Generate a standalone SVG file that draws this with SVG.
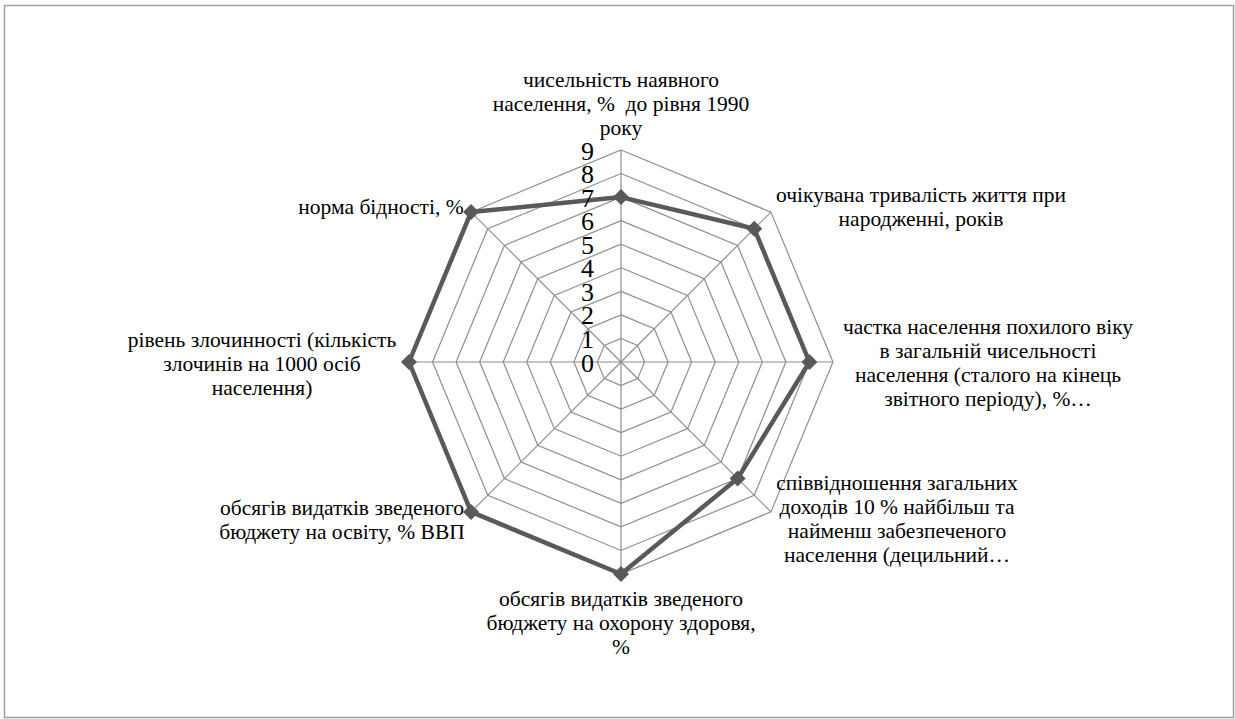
<svg xmlns="http://www.w3.org/2000/svg" width="1235" height="719" viewBox="0 0 1235 719">
<style>
.grid{fill:none;stroke:#8e8e8e;stroke-width:1.2}
.spoke{stroke:#8e8e8e;stroke-width:1.2}
.txt{font-family:"Liberation Serif","Times New Roman",Tinos,serif;fill:#000}
.lbl{font-size:21.5px;text-anchor:middle}
.num{font-size:26px;text-anchor:end}
.series{fill:none;stroke:#595959;stroke-width:4.5;stroke-linejoin:round}
</style>
<defs>
<polygon id="dia" points="0,-8 8,0 0,8 -8,0" fill="#595959"/>
</defs>
<rect x="0" y="0" width="1235" height="719" fill="#fff"/>
<rect x="4.5" y="5.5" width="1229" height="712" fill="none" stroke="#a0a0a0" stroke-width="1.5"/>
<g id="grid">
<polygon class="grid" points="621,338.44 637.66,345.34 644.56,362 637.66,378.66 621,385.56 604.34,378.66 597.44,362 604.34,345.34"/>
<polygon class="grid" points="621,314.89 654.31,328.69 668.11,362 654.31,395.31 621,409.11 587.69,395.31 573.89,362 587.69,328.69"/>
<polygon class="grid" points="621,291.33 670.97,312.03 691.67,362 670.97,411.97 621,432.67 571.03,411.97 550.33,362 571.03,312.03"/>
<polygon class="grid" points="621,267.78 687.63,295.37 715.22,362 687.63,428.63 621,456.22 554.37,428.63 526.78,362 554.37,295.37"/>
<polygon class="grid" points="621,244.22 704.28,278.72 738.78,362 704.28,445.28 621,479.78 537.72,445.28 503.22,362 537.72,278.72"/>
<polygon class="grid" points="621,220.67 720.94,262.06 762.33,362 720.94,461.94 621,503.33 521.06,461.94 479.67,362 521.06,262.06"/>
<polygon class="grid" points="621,197.11 737.60,245.40 785.89,362 737.60,478.60 621,526.89 504.40,478.60 456.11,362 504.40,245.40"/>
<polygon class="grid" points="621,173.56 754.25,228.75 809.44,362 754.25,495.25 621,550.44 487.75,495.25 432.56,362 487.75,228.75"/>
<polygon class="grid" points="621,150 770.91,212.09 833,362 770.91,511.91 621,574 471.09,511.91 409,362 471.09,212.09"/>
</g>
<g id="connectors">
<line class="spoke" x1="621" y1="362" x2="621" y2="150"/>
<line class="spoke" x1="621" y1="362" x2="770.91" y2="212.09"/>
<line class="spoke" x1="621" y1="362" x2="833" y2="362"/>
<line class="spoke" x1="621" y1="362" x2="770.91" y2="511.91"/>
<line class="spoke" x1="621" y1="362" x2="621" y2="574"/>
<line class="spoke" x1="621" y1="362" x2="471.09" y2="511.91"/>
<line class="spoke" x1="621" y1="362" x2="409" y2="362"/>
<line class="spoke" x1="621" y1="362" x2="471.09" y2="212.09"/>
</g>
<g id="series">
<polygon class="series" points="621,197.11 754.25,228.75 809.44,362 737.60,478.60 621,574 471.09,511.91 409,362 471.09,212.09"/>
<use href="#dia" x="621" y="197.11"/>
<use href="#dia" x="754.25" y="228.75"/>
<use href="#dia" x="809.44" y="362"/>
<use href="#dia" x="737.60" y="478.60"/>
<use href="#dia" x="621" y="574"/>
<use href="#dia" x="471.09" y="511.91"/>
<use href="#dia" x="409" y="362"/>
<use href="#dia" x="471.09" y="212.09"/>
</g>
<g id="axis-values" class="txt">
<text class="num" x="594" y="371.5">0</text>
<text class="num" x="594" y="347.9">1</text>
<text class="num" x="594" y="324.4">2</text>
<text class="num" x="594" y="300.8">3</text>
<text class="num" x="594" y="277.3">4</text>
<text class="num" x="594" y="253.7">5</text>
<text class="num" x="594" y="230.2">6</text>
<text class="num" x="594" y="206.6">7</text>
<text class="num" x="594" y="183.1">8</text>
<text class="num" x="594" y="159.5">9</text>
</g>
<g id="label-top" class="txt">
<text class="lbl" x="621" y="87">чисельність наявного</text>
<text class="lbl" x="621" y="111" xml:space="preserve">населення, %  до рівня 1990</text>
<text class="lbl" x="621" y="135">року</text>
</g>
<g id="label-upper-right" class="txt">
<text class="lbl" x="921" y="202">очікувана тривалість життя при</text>
<text class="lbl" x="921" y="226">народженні, років</text>
</g>
<g id="label-right" class="txt">
<text class="lbl" x="988" y="334">частка населення похилого віку</text>
<text class="lbl" x="988" y="358">в загальній чисельності</text>
<text class="lbl" x="988" y="382">населення (сталого на кінець</text>
<text class="lbl" x="988" y="406">звітного періоду), %…</text>
</g>
<g id="label-lower-right" class="txt">
<text class="lbl" x="897" y="490">співвідношення загальних</text>
<text class="lbl" x="897" y="514">доходів 10 % найбільш та</text>
<text class="lbl" x="897" y="538">найменш забезпеченого</text>
<text class="lbl" x="897" y="562">населення (децильний…</text>
</g>
<g id="label-bottom" class="txt">
<text class="lbl" x="621" y="606">обсягів видатків зведеного</text>
<text class="lbl" x="621" y="630">бюджету на охорону здоровя,</text>
<text class="lbl" x="621" y="654">%</text>
</g>
<g id="label-lower-left" class="txt">
<text class="lbl" x="342" y="515">обсягів видатків зведеного</text>
<text class="lbl" x="342" y="539">бюджету на освіту, % ВВП</text>
</g>
<g id="label-left" class="txt">
<text class="lbl" x="262" y="347">рівень злочинності (кількість</text>
<text class="lbl" x="262" y="371">злочинів на 1000 осіб</text>
<text class="lbl" x="262" y="395">населення)</text>
</g>
<g id="label-upper-left" class="txt">
<text class="lbl" x="381" y="214">норма бідності, %</text>
</g>
</svg>
